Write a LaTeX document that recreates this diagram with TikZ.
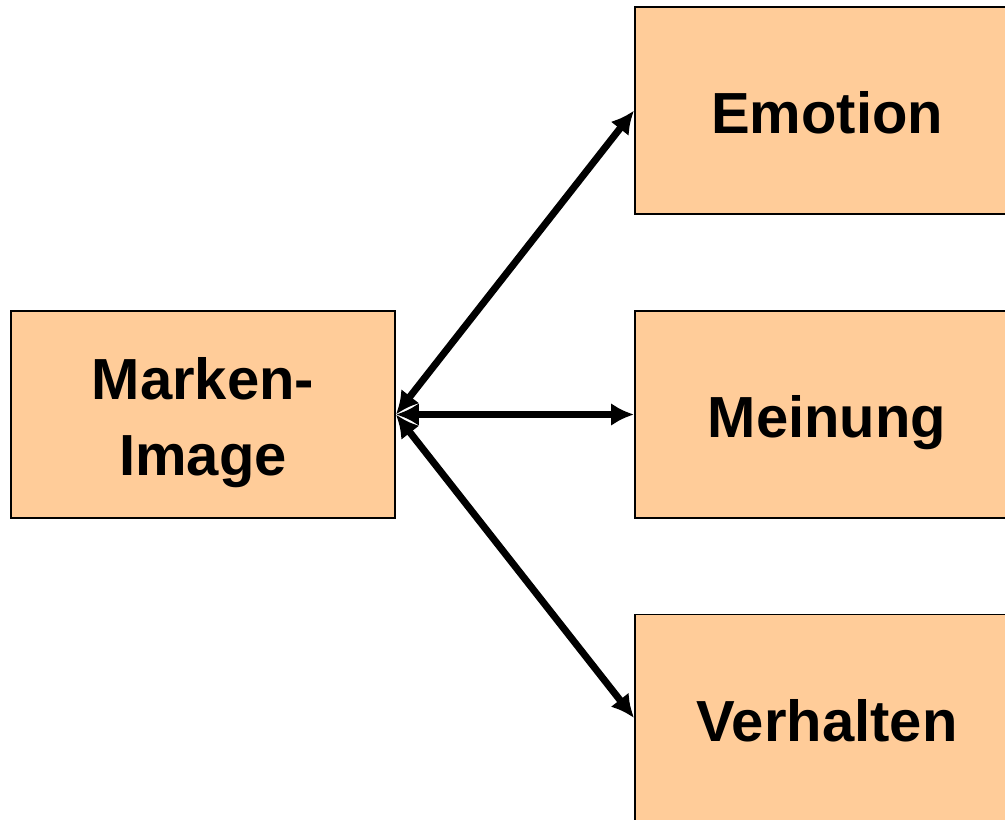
\documentclass[tikz,border=0pt]{standalone}
\usepackage{fontspec}
\setmainfont{Liberation Sans}
\usetikzlibrary{arrows.meta}
\definecolor{peach}{HTML}{FFCC99}

\begin{document}
\begin{tikzpicture}[x=0.02cm, y=-0.02cm,
		box/.style={draw, line width=1.1pt, fill=peach, minimum width=7.68cm, minimum height=4.14cm, inner sep=0pt},
		txt/.style={align=center, font=\fontsize{33}{43}\selectfont\bfseries},
		line/.style={txt, text height=23.8pt, text depth=0pt, yshift=-0.05cm},
		link/.style={{Latex[length=0.46cm,width=0.46cm]}-{Latex[length=0.46cm,width=0.46cm]}, line width=4pt}]
		\useasboundingbox (0,0) rectangle (1005,819);
		\node[box, label={[txt, yshift=-0.16cm]center:Marken-\\Image}] (image) at (203,414.5) {};
		\node[box, label={[line]center:Emotion}] (emotion) at (827,110.5) {};
		\node[box, label={[line]center:Meinung}] (meinung) at (827,414.5) {};
		\node[box, label={[line]center:Verhalten}] (verhalten) at (827,718) {};
		\draw[link] (image.east) to (emotion.west);
		\draw[link] (image.east) to (meinung.west);
		\draw[link] (image.east) to (verhalten.west);
		\end{tikzpicture}
\end{document}
